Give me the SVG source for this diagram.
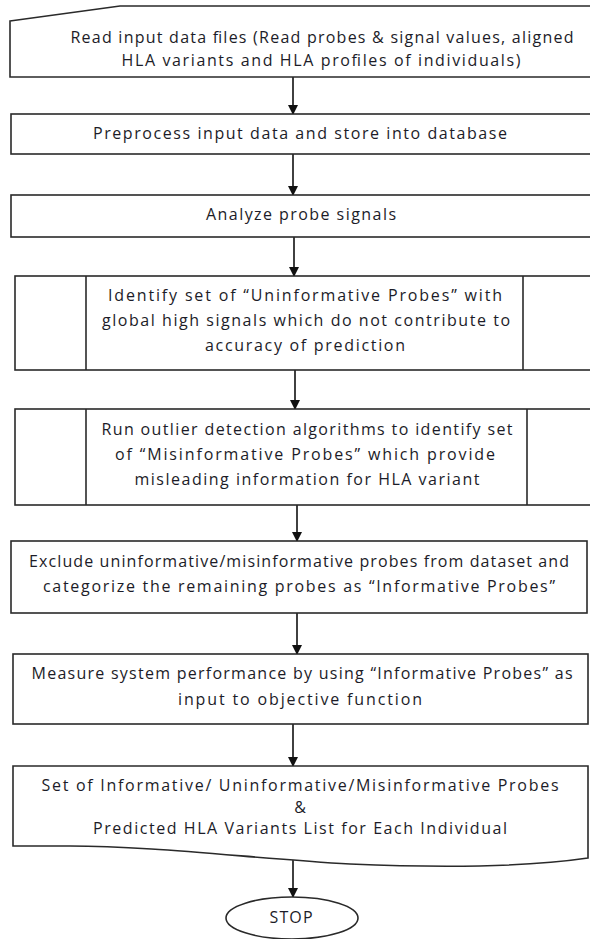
<svg xmlns="http://www.w3.org/2000/svg" width="590" height="939" viewBox="0 0 590 939">
<defs>
<marker id="ah" markerWidth="10" markerHeight="10" refX="9" refY="5" orient="auto" markerUnits="userSpaceOnUse">
<path d="M0,0 L10,5 L0,10 Z" fill="#111"/>
</marker>
<style>
.s{fill:#fff;stroke:#2a2a2a;stroke-width:1.6}
.l{fill:none;stroke:#2a2a2a;stroke-width:1.6}
.t{font-family:"Open Sans","Liberation Sans",sans-serif;font-size:16px;fill:#1c1c28;text-anchor:middle}
.c{fill:none;stroke:#111;stroke-width:1.6;marker-end:url(#ah)}
</style>
</defs>
<rect width="590" height="939" fill="#fff"/>
<g id="connectors">
<line class="c" x1="293" y1="77" x2="293" y2="114"/>
<line class="c" x1="293" y1="154" x2="293" y2="195"/>
<line class="c" x1="294" y1="237" x2="294" y2="276"/>
<line class="c" x1="295" y1="370" x2="295" y2="409"/>
<line class="c" x1="297" y1="505" x2="297" y2="541"/>
<line class="c" x1="297" y1="613" x2="297" y2="654"/>
<line class="c" x1="293" y1="724" x2="293" y2="766"/>
<line class="c" x1="293" y1="860" x2="293" y2="897"/>
</g>
<g id="read-input">
<path class="s" d="M10,21 L120,6 L594,6 L594,77 L10,77 Z"/>
<text class="t" x="322" y="43" textLength="503" lengthAdjust="spacing">Read input data files (Read probes &amp; signal values, aligned</text>
<text class="t" x="321" y="66" textLength="399" lengthAdjust="spacing">HLA variants and HLA profiles of individuals)</text>
</g>
<g id="preprocess">
<rect class="s" x="11" y="114" width="583" height="40"/>
<text class="t" x="300" y="139" textLength="414" lengthAdjust="spacing">Preprocess input data and store into database</text>
</g>
<g id="analyze">
<rect class="s" x="11" y="195" width="583" height="42"/>
<text class="t" x="301" y="220" textLength="190" lengthAdjust="spacing">Analyze probe signals</text>
</g>
<g id="uninformative">
<rect class="s" x="15" y="276" width="580" height="94"/>
<line class="l" x1="86" y1="276" x2="86" y2="370"/>
<line class="l" x1="523" y1="276" x2="523" y2="370"/>
<text class="t" x="305" y="301" textLength="394" lengthAdjust="spacing">Identify set of “Uninformative Probes” with</text>
<text class="t" x="306" y="326" textLength="408" lengthAdjust="spacing">global high signals which do not contribute to</text>
<text class="t" x="305" y="351" textLength="200" lengthAdjust="spacing">accuracy of prediction</text>
</g>
<g id="misinformative">
<rect class="s" x="15" y="409" width="584" height="96"/>
<line class="l" x1="86" y1="409" x2="86" y2="505"/>
<line class="l" x1="527" y1="409" x2="527" y2="505"/>
<text class="t" x="307" y="435" textLength="411" lengthAdjust="spacing">Run outlier detection algorithms to identify set</text>
<text class="t" x="305" y="460" textLength="380" lengthAdjust="spacing">of “Misinformative Probes” which provide</text>
<text class="t" x="307" y="485" textLength="345" lengthAdjust="spacing">misleading information for HLA variant</text>
</g>
<g id="exclude">
<rect class="s" x="11" y="541" width="576" height="72"/>
<text class="t" x="299" y="567" textLength="540" lengthAdjust="spacing">Exclude uninformative/misinformative probes from dataset and</text>
<text class="t" x="299" y="592" textLength="512" lengthAdjust="spacing">categorize the remaining probes as “Informative Probes”</text>
</g>
<g id="measure">
<rect class="s" x="13" y="654" width="575" height="70"/>
<text class="t" x="302" y="679" textLength="541" lengthAdjust="spacing">Measure system performance by using “Informative Probes” as</text>
<text class="t" x="300" y="705" textLength="244" lengthAdjust="spacing">input to objective function</text>
</g>
<g id="output">
<path class="s" d="M13,766 H588 V858 C520,868 420,867 350,864 C250,858 150,846 70,846 H13 Z"/>
<text class="t" x="300" y="791" textLength="517" lengthAdjust="spacing">Set of Informative/ Uninformative/Misinformative Probes</text>
<text class="t" x="300" y="813">&amp;</text>
<text class="t" x="300" y="834" textLength="414" lengthAdjust="spacing">Predicted HLA Variants List for Each Individual</text>
</g>
<g id="stop">
<ellipse class="s" cx="292" cy="918" rx="66" ry="21"/>
<text class="t" x="291" y="923" textLength="43" lengthAdjust="spacing">STOP</text>
</g>
</svg>
